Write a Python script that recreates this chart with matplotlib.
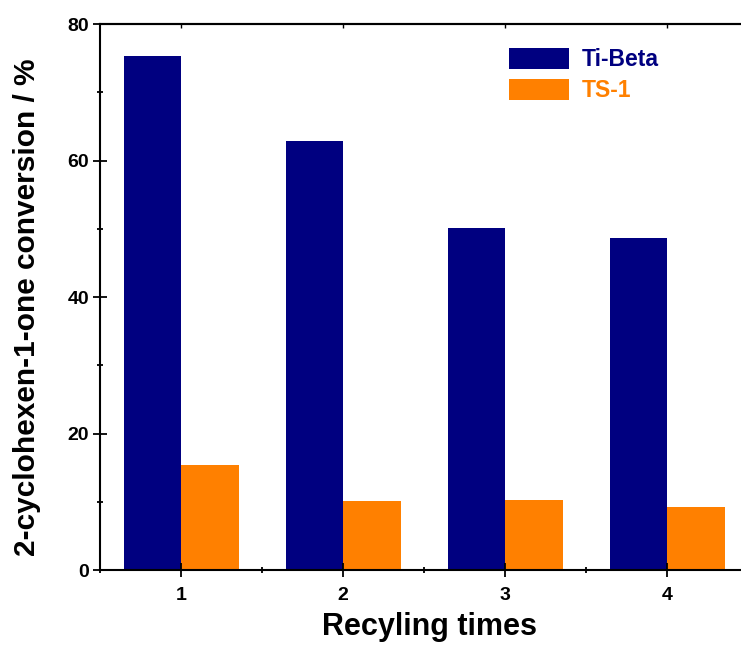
import numpy as np
import matplotlib
matplotlib.use("Agg")
import matplotlib.pyplot as plt
from matplotlib.ticker import MultipleLocator

plt.rcParams['font.family'] = ['Liberation Sans', 'DejaVu Sans']
plt.rcParams['font.weight'] = 'bold'

cycles = [1, 2, 3, 4]
ti_beta = [75.3, 62.9, 50.1, 48.6]
ts_1 = [15.4, 10.1, 10.3, 9.2]
labels = ["Ti-Beta", "TS-1"]
colors = ["#000080", "#FF8000"]

fig = plt.figure(figsize=(7.41, 6.46), dpi=100)
ax = fig.add_axes([0.135, 0.1176, 0.8745, 0.845])

x = np.array(cycles)
w = 0.355
ax.bar(x - w / 2, ti_beta, w, color=colors[0], label=labels[0])
ax.bar(x + w / 2, ts_1, w, color=colors[1], label=labels[1])

ax.set_xlim(0.5, 4.5)
ax.set_ylim(0, 80)
ax.set_xticks(cycles)
ax.xaxis.set_minor_locator(MultipleLocator(0.5))
ax.yaxis.set_major_locator(MultipleLocator(20))
ax.yaxis.set_minor_locator(MultipleLocator(10))

for s in ax.spines.values():
    s.set_linewidth(1.5)
ax.tick_params(which='major', direction='inout', length=10, width=1.3,
               labelsize=14, pad=3)
ax.tick_params(which='minor', direction='inout', length=5, width=1.3)
ax.tick_params(axis='x', which='major', pad=7)

# small inward ticks along the top edge
top = ax.secondary_xaxis('top')
top.set_xticks(cycles)
top.tick_params(direction='in', length=3, width=1.0, labeltop=False)
top.spines['top'].set_linewidth(1.5)

ax.set_xlabel("Recyling times", fontsize=22, fontweight='bold', labelpad=6)
ax.set_ylabel("2-cyclohexen-1-one conversion / %", fontsize=21.5,
              fontweight='bold', labelpad=19)
ax.xaxis.label.set_x(0.509)
ax.yaxis.label.set_y(0.482)

ax.legend(loc='upper left', bbox_to_anchor=(0.6, 0.995), frameon=False,
          handlelength=2.6, handleheight=1.05,
          labelspacing=0.35, handletextpad=0.55, labelcolor=colors,
          prop={'weight': 'bold', 'size': 16.5})

fig.savefig("out.png", dpi=100)
